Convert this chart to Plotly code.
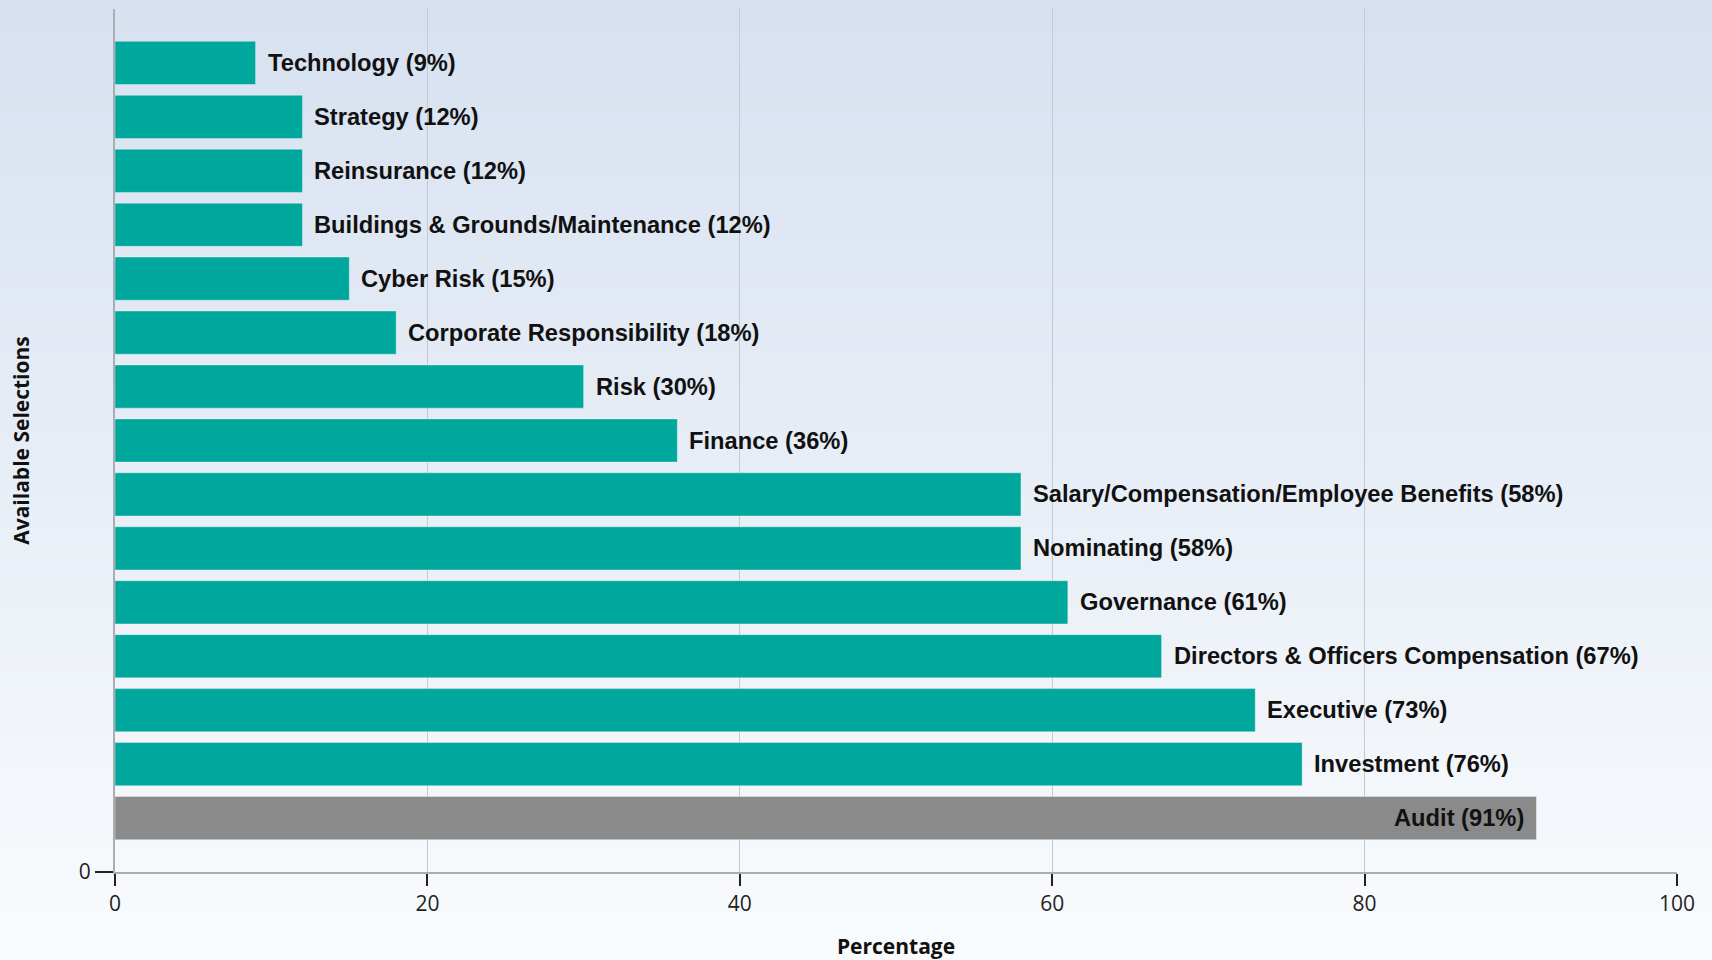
import plotly.graph_objects as go

# ---- data (top to bottom as drawn) ----
categories = [
    "Technology", "Strategy", "Reinsurance", "Buildings & Grounds/Maintenance",
    "Cyber Risk", "Corporate Responsibility", "Risk", "Finance",
    "Salary/Compensation/Employee Benefits", "Nominating", "Governance",
    "Directors & Officers Compensation", "Executive", "Investment", "Audit",
]
percentages = [9, 12, 12, 12, 15, 18, 30, 36, 58, 58, 61, 67, 73, 76, 91]
highlight = "Audit"
x_ticks = [0, 20, 40, 60, 80, 100]

TEAL = "#00A79D"
GREY = "#8A8A8A"

n = len(categories)
positions = [n - i for i in range(n)]  # top bar highest
colors = [GREY if c == highlight else TEAL for c in categories]

fig = go.Figure()
fig.add_trace(go.Bar(
    x=percentages, y=positions, orientation="h",
    marker=dict(color=colors, line=dict(color="rgba(255,255,255,0.35)", width=1)),
    width=0.8, hoverinfo="skip", showlegend=False,
))

LBL_FONT = dict(family="Liberation Sans, Arial, sans-serif", size=23.7, color="#111111", weight="bold")
for cat, val, pos in zip(categories, percentages, positions):
    inside = cat == highlight
    fig.add_annotation(
        x=val, y=pos, xref="x", yref="y",
        text=f"{cat} ({val}%)", showarrow=False,
        xanchor="right" if inside else "left", yanchor="middle",
        xshift=-10 if inside else 10, font=LBL_FONT,
    )

W, H = 1712, 960
ML, MR, MT, MB = 115, 35, 9, 88
pw, ph = W - ML - MR, H - MT - MB

# vertical background gradient (light blue -> near white)
top_rgb = (215, 225, 240)
bot_rgb = (249, 251, 253)
steps = 60
x0p, x1p = -ML / pw, 1 + MR / pw
y_bot, y_top = -MB / ph, 1 + MT / ph
shapes = []
for k in range(steps):
    t = k / (steps - 1)
    r = round(bot_rgb[0] + (top_rgb[0] - bot_rgb[0]) * t)
    g = round(bot_rgb[1] + (top_rgb[1] - bot_rgb[1]) * t)
    b = round(bot_rgb[2] + (top_rgb[2] - bot_rgb[2]) * t)
    ya = y_bot + (y_top - y_bot) * k / steps
    yb = y_bot + (y_top - y_bot) * (k + 1) / steps + 0.002
    shapes.append(dict(type="rect", xref="paper", yref="paper", x0=x0p, x1=x1p,
                       y0=ya, y1=yb, fillcolor=f"rgb({r},{g},{b})",
                       line=dict(width=0), layer="below"))

TICK_FONT = dict(family="Open Sans, sans-serif", size=21, color="#222222")
TITLE_FONT = dict(family="Open Sans, sans-serif", size=21, color="#111111", weight="bold")

fig.update_layout(
    width=W, height=H,
    margin=dict(l=ML, r=MR, t=MT, b=MB, autoexpand=False),
    paper_bgcolor="#f9fbfd", plot_bgcolor="rgba(0,0,0,0)",
    shapes=shapes, bargap=0.2,
    xaxis=dict(
        range=[0, 100], tickvals=x_ticks, ticktext=[str(v) for v in x_ticks],
        showgrid=True, gridcolor="#c5c9d0", gridwidth=1, zeroline=False,
        showline=True, linecolor="#a9adb4", linewidth=2,
        ticks="outside", ticklen=12, tickcolor="#222222", tickwidth=2,
        tickfont=TICK_FONT,
        title=dict(text="Percentage", font=TITLE_FONT, standoff=27),
        fixedrange=True,
    ),
    yaxis=dict(
        range=[0, 16], tickvals=[0], ticktext=["0"],
        showgrid=False, zeroline=False,
        showline=True, linecolor="#a9adb4", linewidth=2,
        ticks="outside", ticklen=18, tickcolor="#222222", tickwidth=2,
        tickfont=TICK_FONT,
        title=dict(text="Available Selections", font=TITLE_FONT, standoff=43),
        fixedrange=True,
    ),
)

fig.write_html(
    "out.html",
    config={"displayModeBar": False},
    post_script="document.body.style.margin='0';document.body.style.overflow='hidden';",
)
